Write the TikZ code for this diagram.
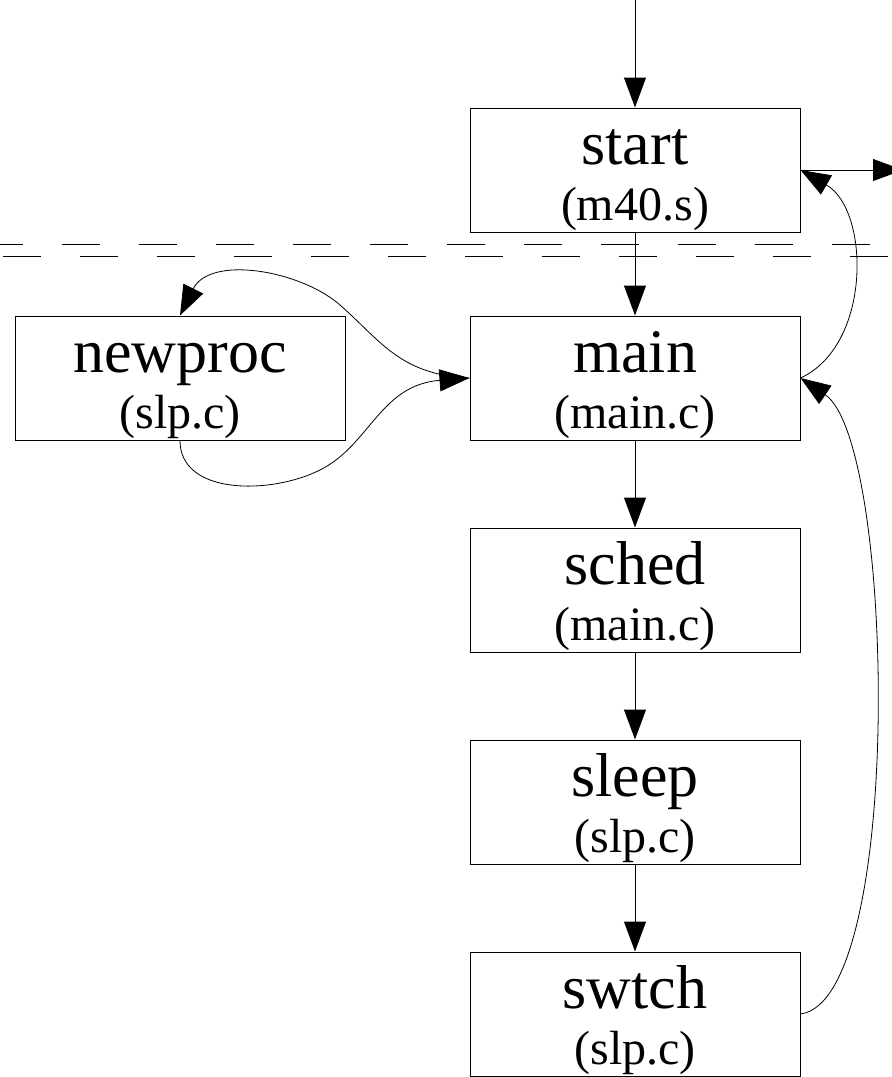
\documentclass[tikz,border=0pt]{standalone}
\usepackage{fontspec}
\setmainfont{Liberation Serif}
\usetikzlibrary{arrows.meta}
\begin{document}
\begin{tikzpicture}[x=1pt,y=-1pt,
  box/.style={draw=black, line width=1pt, minimum width=330pt, minimum height=124pt, inner sep=0pt},
  routine/.style={anchor=base, inner sep=0pt, font=\fontsize{62}{62}\selectfont},
  srcfile/.style={anchor=base, inner sep=0pt, font=\fontsize{48}{48}\selectfont},
  flow/.style={line width=1pt, -{Triangle[length=30pt,width=22pt]}},
  loop/.style={line width=0.8pt, -{Triangle[length=30pt,width=22pt]}},
  boundary/.style={line width=1pt, dash pattern=on 38pt off 39pt}]
\useasboundingbox (0,0) rectangle (892,1077);
\clip (0,0) rectangle (892,1077);

% call boxes
\node[box] (start)   at (635,170)  {};
\node[box] (main)    at (635,378)  {};
\node[box] (newproc) at (180,378)  {};
\node[box] (sched)   at (635,590)  {};
\node[box] (sleep)   at (635,802)  {};
\node[box] (swtch)   at (635,1014) {};

% routine names and source files
\node[routine] (startname)   at (635,164)  {start};
\node[srcfile] (startfile)   at (635,220)  {(m40.s)};
\node[routine] (mainname)    at (635,372)  {main};
\node[srcfile] (mainfile)    at (635,428)  {(main.c)};
\node[routine] (newprocname) at (180,372)  {newproc};
\node[srcfile] (newprocfile) at (180,428)  {(slp.c)};
\node[routine] (schedname)   at (635,584)  {sched};
\node[srcfile] (schedfile)   at (635,640)  {(main.c)};
\node[routine] (sleepname)   at (635,796)  {sleep};
\node[srcfile] (sleepfile)   at (635,852)  {(slp.c)};
\node[routine] (swtchname)   at (635,1008) {swtch};
\node[srcfile] (swtchfile)   at (635,1064) {(slp.c)};

% double dashed boundary below start
\coordinate (cutL1) at (0,244);
\coordinate (cutR1) at (892,244);
\coordinate (cutL2) at (0,256);
\coordinate (cutR2) at (892,256);
\draw[boundary, dash phase=15pt] (cutL1) -- (cutR1);
\draw[boundary, dash phase=74pt] (cutL2) -- (cutR2);

% entry and exit
\coordinate (entry) at (635,0);
\coordinate (exit)  at (903,170);
\draw[flow] (entry) -- (start.north);
\draw[flow] (start.east) -- (exit);

% main call chain
\draw[flow] (start.south) -- (main.north);
\draw[flow] (main.south)  -- (sched.north);
\draw[flow] (sched.south) -- (sleep.north);
\draw[flow] (sleep.south) -- (swtch.north);

% returns on the right
\draw[loop] (main.east) .. controls (872,345) and (870,210) .. (start.east);
\draw[loop] (swtch.east) .. controls (905,1000) and (895,442) .. (main.east);

% newproc round trip
\draw[loop] (newproc.south) .. controls (180,495) and (270,495) .. (320,470)
  .. controls (370,445) and (380,385) .. (main.west);
\draw[loop] (main.west) .. controls (400,375) and (380,340) .. (340,305)
  .. controls (300,270) and (210,255) .. (newproc.north);
\end{tikzpicture}
\end{document}
